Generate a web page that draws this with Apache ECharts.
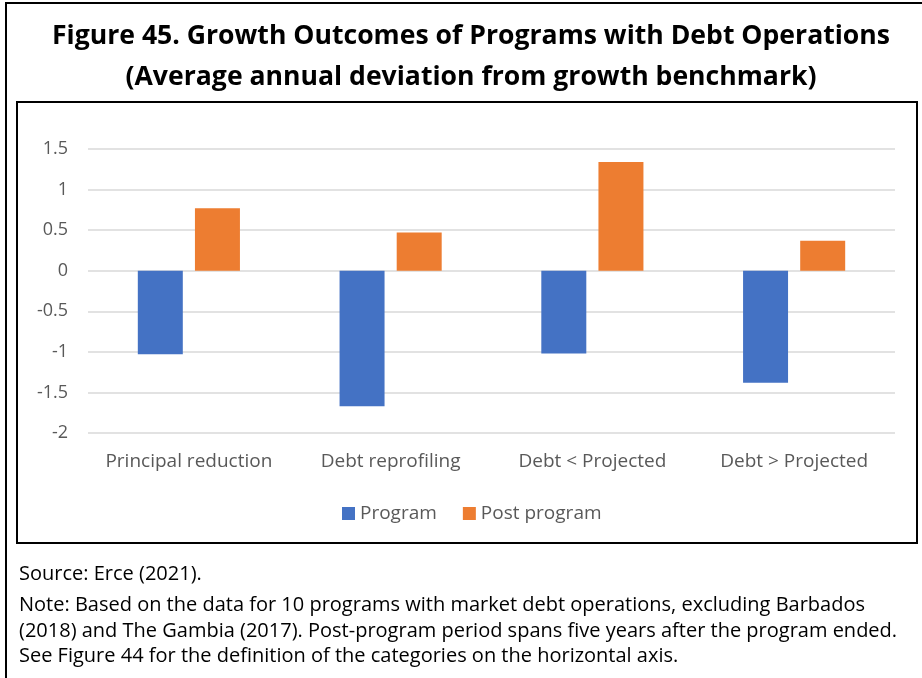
<!DOCTYPE html>
<html>
<head>
<meta charset="utf-8">
<script src="https://cdn.jsdelivr.net/npm/echarts@6/dist/echarts.min.js"></script>
<style>
    html, body { margin: 0; padding: 0; background: #fff; }
    #chart { width: 922px; height: 678px; }
</style>
</head>
<body>
<div id="chart"></div>
<script>
    // values
    var categories = ['Principal reduction', 'Debt reprofiling', 'Debt < Projected', 'Debt > Projected'];
    var programVals = [-1.03, -1.67, -1.02, -1.38];
    var postProgramVals = [0.77, 0.47, 1.34, 0.37];
    var seriesNames = ['Program', 'Post program'];

    var titleLines = 'Figure 45. Growth Outcomes of Programs with Debt Operations\n(Average annual deviation from growth benchmark)';
    var noteLines = [
        'Source: Erce (2021).',
        'Note: Based on the data for 10 programs with market debt operations, excluding Barbados',
        '(2018) and The Gambia (2017). Post-program period spans five years after the program ended.',
        'See Figure 44 for the definition of the categories on the horizontal axis.'
    ];

    var font = '"Open Sans", "Noto Sans", sans-serif';
    var labelColor = '#595959';

    var chart = echarts.init(document.getElementById('chart'));

    var option = {
        backgroundColor: '#fff',
        animation: false,
        legend: {
            data: seriesNames,
            left: 337,
            top: 499,
            itemWidth: 13,
            itemHeight: 13,
            itemGap: 26,
            icon: 'rect',
            textStyle: { fontFamily: font, fontSize: 19, color: labelColor }
        },
        grid: {
            left: 88,
            right: 27,
            top: 149,
            bottom: 245,
            containLabel: false
        },
        xAxis: {
            type: 'category',
            data: categories,
            axisLine: { show: false },
            axisTick: { show: false },
            axisLabel: {
                fontFamily: font,
                fontSize: 19,
                color: labelColor,
                margin: 19,
                interval: 0
            }
        },
        yAxis: {
            type: 'value',
            min: -2,
            max: 1.5,
            interval: 0.5,
            axisLine: { show: false },
            axisTick: { show: false },
            axisLabel: {
                fontFamily: font,
                fontSize: 18,
                color: labelColor,
                margin: 20
            },
            splitLine: { lineStyle: { color: '#d9d9d9', width: 1.5 } }
        },
        series: [
            {
                name: seriesNames[0],
                type: 'bar',
                data: programVals,
                barWidth: '22.3%',
                barGap: '27%',
                itemStyle: { color: '#4472c4' }
            },
            {
                name: seriesNames[1],
                type: 'bar',
                data: postProgramVals,
                barWidth: '22.3%',
                itemStyle: { color: '#ed7d31' }
            }
        ],
        graphic: [
            // title, centred a bit right of the canvas like the original
            {
                type: 'text',
                x: 471,
                y: 16,
                style: {
                    text: titleLines,
                    font: 'bold 26.6px ' + font,
                    lineHeight: 41,
                    textAlign: 'center',
                    textVerticalAlign: 'top',
                    fill: '#000'
                }
            },
            // outer frame (left and top edges)
            {
                type: 'polyline',
                shape: { points: [[6, 678], [6, 3], [922, 3]] },
                style: { stroke: '#000', lineWidth: 2, fill: null }
            },
            // chart box
            {
                type: 'rect',
                shape: { x: 17, y: 102, width: 900, height: 441 },
                style: { stroke: '#000', lineWidth: 2, fill: null },
                z: -1
            },
            {
                type: 'text',
                left: 19,
                top: 564,
                style: {
                    text: noteLines[0],
                    font: '20px ' + font,
                    fill: '#000'
                }
            },
            {
                type: 'text',
                left: 19,
                top: 593,
                style: {
                    text: noteLines.slice(1).join('\n'),
                    font: '20px ' + font,
                    lineHeight: 25.5,
                    fill: '#000'
                }
            }
        ]
    };

    chart.setOption(option);
</script>
</body>
</html>
